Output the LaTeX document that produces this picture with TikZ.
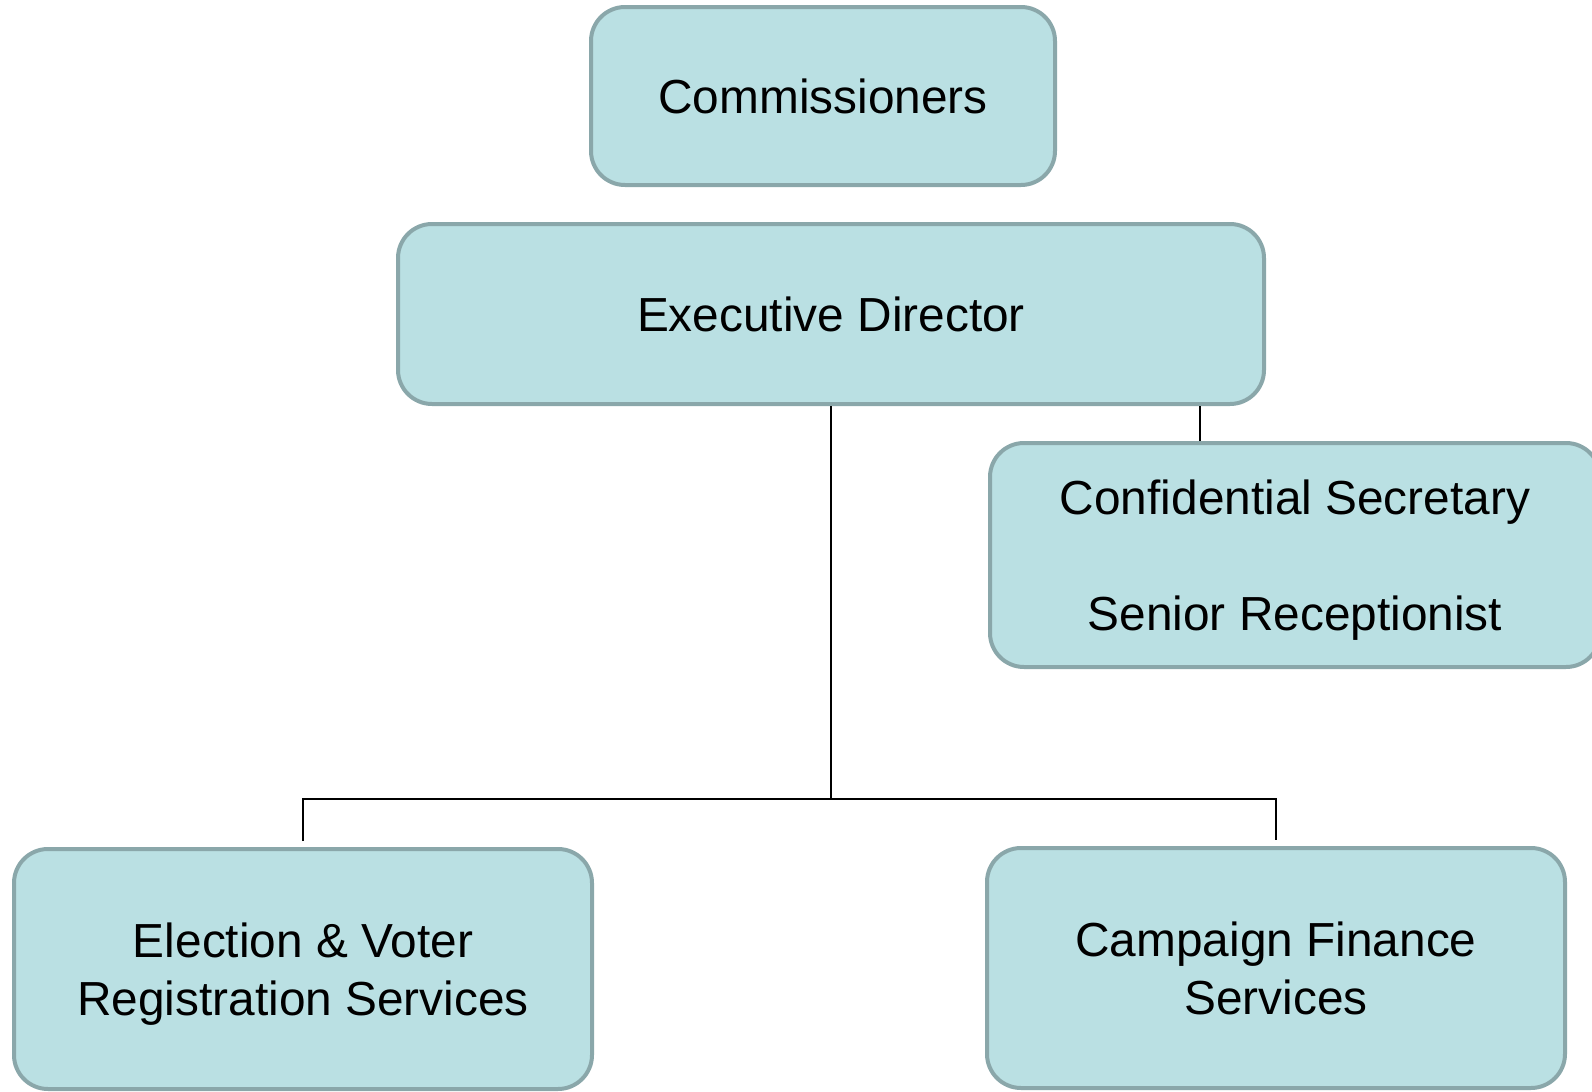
\documentclass[tikz,border=0pt]{standalone}
\usepackage{fontspec}
\setmainfont{Liberation Sans}
\definecolor{boxfill}{HTML}{BAE0E3}
\definecolor{boxline}{HTML}{8AA7AA}
\tikzset{
  unit/.style={
    draw=boxline, line width=2pt, fill=boxfill,
    rounded corners=17pt, align=center, inner sep=0pt,
    font=\fontsize{23.9}{29}\selectfont
  },
  link/.style={line width=1.4pt, black},
}

\begin{document}
\begin{tikzpicture}[x=0.5pt,y=-0.5pt]
  \useasboundingbox (0,0) rectangle (1592,1092);
  \node[unit,minimum width=232pt,minimum height=89pt] (comm) at (823,96) {Commissioners};
  \node[unit,minimum width=433pt,minimum height=90pt] (ed) at (831,314) {Executive Director};
  \node[unit,minimum width=305pt,minimum height=112pt] (conf) at (1295,555)
    {Confidential Secretary\\[29pt]\smash{Senior Receptionist}};
  \node[unit,minimum width=289pt,minimum height=120pt] (elec) at (303,969)
    {Election \& Voter\\\smash{Registration Services}};
  \node[unit,minimum width=289pt,minimum height=120pt] (camp) at (1276,968)
    {Campaign Finance\\Services};
  \coordinate (bus) at (831,799);
  \coordinate (sec) at (1200,0);
  \draw[link] (ed.south) -- (bus);
  \draw[link,shorten <=3pt,shorten >=3pt] (elec.north) |- (bus) -| (camp.north);
  \draw[link] (sec |- ed.south) -- (sec |- conf.north);
\end{tikzpicture}
\end{document}
